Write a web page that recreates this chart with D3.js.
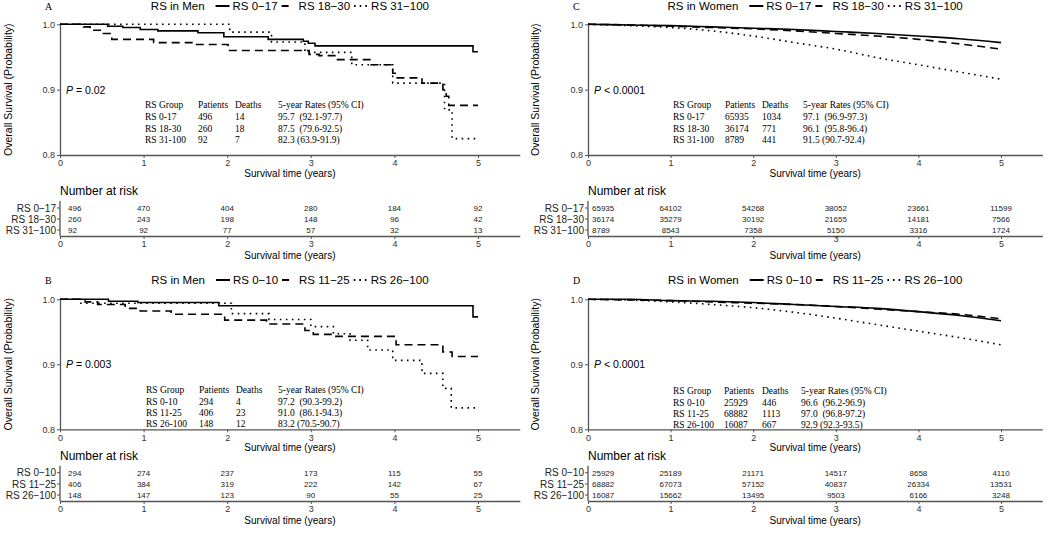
<!DOCTYPE html>
<html><head><meta charset="utf-8">
<script src="https://cdn.jsdelivr.net/npm/d3@7"></script>
<style>
body{margin:0;background:#fff;}
svg{display:block;}
text{font-family:"Liberation Sans",Arial,sans-serif;}
.serif{font-family:"Liberation Serif","Times New Roman",serif;}
</style></head>
<body>
<svg id="c" width="1050" height="535"></svg>
<script>
// ---------- shared ----------
const timeTicks = [0, 1, 2, 3, 4, 5];
const survTicks = [0.8, 0.9, 1.0];
const tableHeader = ["RS Group", "Patients", "Deaths", "5-year Rates (95% CI)"];

// ---------- Panel A : RS in Men (0-17 / 18-30 / 31-100) ----------
const aTitle = "RS in Men";
const aGroups = ["RS 0\u221217", "RS 18\u221230", "RS 31\u2212100"];
const aLow = [[0,1],[0.57,0.997],[0.75,0.995],[0.96,0.992],[1.17,0.990],[1.65,0.987],[1.96,0.981],[2.49,0.977],[2.91,0.974],[2.97,0.971],[3.05,0.967],[4.94,0.958],[5,0.958]];
const aMid = [[0,1],[0.28,0.996],[0.36,0.991],[0.52,0.986],[0.62,0.977],[1.12,0.972],[1.59,0.969],[2.01,0.960],[2.98,0.954],[3.10,0.952],[3.30,0.946],[3.72,0.938],[3.98,0.925],[4.01,0.918],[4.33,0.910],[4.58,0.900],[4.62,0.890],[4.65,0.876],[5,0.876]];
const aHigh = [[0,1],[2.03,0.988],[2.53,0.973],[2.93,0.957],[3.49,0.938],[3.98,0.910],[4.60,0.869],[4.69,0.825],[5,0.825]];
const aRisk = [[496,470,404,280,184,92],[260,243,198,148,96,42],[92,92,77,57,32,13]];
const aStats = [["RS 0-17","496","14","95.7  (92.1-97.7)"],["RS 18-30","260","18","87.5  (79.6-92.5)"],["RS 31-100","92","7","82.3 (63.9-91.9)"]];
const aP = " = 0.02";

// ---------- Panel B : RS in Men (0-10 / 11-25 / 26-100) ----------
const bTitle = "RS in Men";
const bGroups = ["RS 0\u221210", "RS 11\u221225", "RS 26\u2212100"];
const bLow = [[0,1],[0.58,0.997],[0.93,0.995],[1.90,0.990],[4.94,0.973],[5,0.973]];
const bMid = [[0,1],[0.30,0.996],[0.45,0.992],[0.78,0.986],[0.96,0.982],[1.33,0.977],[1.97,0.968],[2.47,0.962],[2.93,0.952],[3.03,0.946],[3.30,0.943],[4.02,0.930],[4.58,0.919],[4.69,0.912],[5,0.912]];
const bHigh = [[0,1],[0.25,0.994],[2.05,0.978],[2.50,0.969],[3.00,0.958],[3.27,0.947],[3.47,0.937],[3.68,0.922],[3.98,0.906],[4.33,0.886],[4.58,0.863],[4.68,0.833],[5,0.833]];
const bRisk = [[294,274,237,173,115,55],[406,384,319,222,142,67],[148,147,123,90,55,25]];
const bStats = [["RS 0-10","294","4","97.2  (90.3-99.2)"],["RS 11-25","406","23","91.0  (86.1-94.3)"],["RS 26-100","148","12","83.2 (70.5-90.7)"]];
const bP = " = 0.003";

// ---------- Panel C : RS in Women (0-17 / 18-30 / 31-100) ----------
const cTitle = "RS in Women";
const cGroups = ["RS 0\u221217", "RS 18\u221230", "RS 31\u2212100"];
const cLow = [[0,1],[0.5,0.999],[1,0.998],[1.5,0.996],[2,0.994],[2.5,0.992],[3,0.989],[3.5,0.986],[4,0.982],[4.5,0.978],[5,0.972]];
const cMid = [[0,1],[0.5,0.999],[1,0.997],[1.5,0.995],[2,0.993],[2.5,0.990],[3,0.986],[3.5,0.982],[4,0.977],[4.5,0.970],[5,0.962]];
const cHigh = [[0,1],[0.5,0.998],[1,0.995],[1.5,0.990],[2,0.982],[2.5,0.972],[3,0.962],[3.5,0.949],[4,0.938],[4.5,0.927],[5,0.916]];
const cRisk = [[65935,64102,54268,38052,23661,11599],[36174,35279,30192,21655,14181,7566],[8789,8543,7358,5150,3316,1724]];
const cStats = [["RS 0-17","65935","1034","97.1  (96.9-97.3)"],["RS 18-30","36174","771","96.1  (95.8-96.4)"],["RS 31-100","8789","441","91.5 (90.7-92.4)"]];
const cP = " < 0.0001";

// ---------- Panel D : RS in Women (0-10 / 11-25 / 26-100) ----------
const dTitle = "RS in Women";
const dGroups = ["RS 0\u221210", "RS 11\u221225", "RS 26\u2212100"];
const dLow = [[0,1],[0.5,1.0],[1,0.998],[1.5,0.997],[2,0.995],[2.5,0.992],[3,0.989],[3.5,0.986],[4,0.981],[4.5,0.975],[5,0.967]];
const dMid = [[0,1],[0.5,0.999],[1,0.998],[1.5,0.996],[2,0.994],[2.5,0.992],[3,0.989],[3.5,0.985],[4,0.981],[4.5,0.977],[5,0.970]];
const dHigh = [[0,1],[0.5,0.999],[1,0.996],[1.5,0.992],[2,0.987],[2.5,0.980],[3,0.971],[3.5,0.961],[4,0.951],[4.5,0.941],[5,0.930]];
const dRisk = [[25929,25189,21171,14517,8658,4110],[68882,67073,57152,40837,26334,13531],[16087,15662,13495,9503,6166,3248]];
const dStats = [["RS 0-10","25929","446","96.6  (96.2-96.9)"],["RS 11-25","68882","1113","97.0  (96.8-97.2)"],["RS 26-100","16087","667","92.9 (92.3-93.5)"]];
const dP = " < 0.0001";

// ---------- drawing ----------
const svg = d3.select("#c");
const dashes = [null, "8 5", "1.6 4.4"];
const keyDashes = [null, "7 9", "1.6 4"];
const axisCol = "#555";
const tickTextCol = "#333";

function styleAxis(sel, fs) {
  sel.select(".domain").attr("stroke", axisCol).attr("stroke-width", 1.3);
  sel.selectAll(".tick line").attr("stroke", axisCol).attr("stroke-width", 1);
  sel.selectAll(".tick text").attr("fill", tickTextCol).style("font-size", fs + "px")
    .style("font-family", '"Liberation Sans",Arial,sans-serif');
}

function panel(cfg) {
  const g = svg.append("g");
  const x = d3.scaleLinear().domain([0, 5.5]).range([cfg.x0, cfg.x0 + 5.5 * cfg.ppy]);
  const y = d3.scaleLinear().domain([0.8, 1.0]).range([cfg.yBot, cfg.yTop]);
  const xMid = (x(0) + x(5.5)) / 2;

  // panel letter
  g.append("text").attr("class", "serif").attr("x", cfg.letterX).attr("y", cfg.titleY)
    .attr("dy", "0.35em").style("font-size", "10px").text(cfg.letter);

  // title legend
  const lg = g.append("g");
  let cx = 0;
  const tt = lg.append("text").attr("x", cx).attr("y", cfg.titleY).attr("dy", "0.35em")
    .style("font-size", "11.5px").text(cfg.title);
  cx += tt.node().getComputedTextLength() + 11;
  cfg.groups.forEach((lab, i) => {
    lg.append("line").attr("x1", cx).attr("x2", cx + 14).attr("y1", cfg.titleY).attr("y2", cfg.titleY)
      .attr("stroke", "#000").attr("stroke-width", 2).attr("stroke-dasharray", keyDashes[i]);
    cx += 17;
    const lt = lg.append("text").attr("x", cx).attr("y", cfg.titleY).attr("dy", "0.35em")
      .style("font-size", "11.5px").text(lab);
    cx += lt.node().getComputedTextLength() + (i < 2 ? 4 : 0);
  });
  lg.attr("transform", `translate(${xMid - cx / 2},0)`);

  // axes
  const ya = g.append("g").attr("transform", `translate(${cfg.x0},0)`)
    .call(d3.axisLeft(y).tickValues(survTicks).tickFormat(d3.format(".1f")).tickSize(3).tickSizeOuter(0).tickPadding(2));
  styleAxis(ya, 9);
  const xa = g.append("g").attr("transform", `translate(0,${cfg.yBot})`)
    .call(d3.axisBottom(x).tickValues(timeTicks).tickFormat(d3.format("d")).tickSize(3).tickSizeOuter(0).tickPadding(2));
  styleAxis(xa, 9);

  g.append("text").attr("transform", `translate(${cfg.labelX},${(cfg.yTop + cfg.yBot) / 2}) rotate(-90)`)
    .attr("text-anchor", "middle").attr("dy", "0.35em").style("font-size", "10.5px")
    .text("Overall Survival (Probability)");
  g.append("text").attr("x", xMid).attr("y", cfg.xTitleY).attr("dy", "0.35em")
    .attr("text-anchor", "middle").style("font-size", "10px").text("Survival time (years)");

  // curves
  const line = d3.line().x(d => x(d[0])).y(d => y(d[1]))
    .curve(cfg.step ? d3.curveStepAfter : d3.curveMonotoneX);
  cfg.curves.forEach((c, i) => {
    g.append("path").datum(c).attr("d", line).attr("fill", "none").attr("stroke", "#000")
      .attr("stroke-width", 1.6).attr("stroke-dasharray", dashes[i]);
  });

  // p value
  const pt = g.append("text").attr("x", cfg.pX).attr("y", cfg.pY).attr("dy", "0.35em").style("font-size", "10.5px");
  pt.append("tspan").style("font-style", "italic").text("P");
  pt.append("tspan").style("white-space", "pre").text(cfg.p);

  // stats table
  const rowsT = [tableHeader].concat(cfg.stats);
  rowsT.forEach((r, ri) => {
    r.forEach((v, ci) => {
      g.append("text").attr("class", "serif").attr("x", cfg.tabX[ci]).attr("y", cfg.tabY[ri])
        .attr("dy", "0.35em").style("font-size", "9.5px").style("white-space", "pre").text(v);
    });
  });

  // number at risk
  g.append("text").attr("x", cfg.x0).attr("y", cfg.narY).attr("dy", "0.35em")
    .style("font-size", "12px").text("Number at risk");
  const ra = g.append("g").attr("transform", `translate(0,${cfg.riskAxisY})`)
    .call(d3.axisBottom(x).tickValues(timeTicks).tickFormat(d3.format("d")).tickSize(3).tickSizeOuter(0).tickPadding(2));
  styleAxis(ra, 9);
  if (cfg.raisedTick !== undefined) {
    ra.selectAll(".tick").filter(d => d === cfg.raisedTick).select("text").attr("y", 0);
  }
  g.append("text").attr("x", xMid).attr("y", cfg.riskTitleY).attr("dy", "0.35em")
    .attr("text-anchor", "middle").style("font-size", "10px").text("Survival time (years)");
  g.append("line").attr("x1", cfg.x0).attr("x2", cfg.x0)
    .attr("y1", cfg.riskRows[0] - 7).attr("y2", cfg.riskAxisY)
    .attr("stroke", axisCol).attr("stroke-width", 1.3);
  cfg.risk.forEach((row, ri) => {
    const ry = cfg.riskRows[ri];
    g.append("line").attr("x1", cfg.x0 - 3).attr("x2", cfg.x0).attr("y1", ry).attr("y2", ry)
      .attr("stroke", axisCol);
    g.append("text").attr("x", cfg.x0 - 4).attr("y", ry).attr("dy", "0.35em")
      .attr("text-anchor", "end").style("font-size", "10px").attr("fill", "#222").text(cfg.groups[ri]);
    row.forEach((v, ci) => {
      const first = ci === 0;
      g.append("text").attr("x", first ? x(0) + cfg.firstOff : x(timeTicks[ci])).attr("y", ry)
        .attr("dy", "0.35em").attr("text-anchor", first ? "start" : "middle")
        .style("font-size", "8px").attr("fill", "#222").text(v);
    });
  });
}

panel({letter:"A", title:aTitle, groups:aGroups, curves:[aLow,aMid,aHigh], risk:aRisk, stats:aStats, p:aP, step:true,
  x0:60, ppy:83.6, yTop:24.3, yBot:155, titleY:6, letterX:45, labelX:8, pX:66, pY:90,
  tabX:[145,198,235,278], tabY:[105,117,129,140], xTitleY:173, narY:191, riskRows:[208,219,230],
  riskAxisY:236, riskTitleY:255, firstOff:8});
panel({letter:"B", title:bTitle, groups:bGroups, curves:[bLow,bMid,bHigh], risk:bRisk, stats:bStats, p:bP, step:true,
  x0:60, ppy:83.6, yTop:299.3, yBot:429.3, titleY:280, letterX:45, labelX:8, pX:66, pY:364,
  tabX:[146,199,236,278], tabY:[390,402,413,424], xTitleY:447, narY:456, riskRows:[472.7,484,495],
  riskAxisY:501, riskTitleY:520, firstOff:8});
panel({letter:"C", title:cTitle, groups:cGroups, curves:[cLow,cMid,cHigh], risk:cRisk, stats:cStats, p:cP, step:false,
  x0:588, ppy:82.6, yTop:24.3, yBot:155, titleY:6, letterX:573, labelX:535, pX:594, pY:90,
  tabX:[673,725,762,803], tabY:[105,117,129,140], xTitleY:173, narY:191, riskRows:[208,219,230],
  riskAxisY:236, riskTitleY:255, firstOff:4, raisedTick:3});
panel({letter:"D", title:dTitle, groups:dGroups, curves:[dLow,dMid,dHigh], risk:dRisk, stats:dStats, p:dP, step:false,
  x0:588, ppy:82.6, yTop:299.3, yBot:429.3, titleY:280, letterX:573, labelX:535, pX:594, pY:364,
  tabX:[673,724,762,801], tabY:[391,402.5,414,425], xTitleY:447, narY:456, riskRows:[472.7,484,495],
  riskAxisY:501, riskTitleY:520, firstOff:4});
</script>
</body></html>
